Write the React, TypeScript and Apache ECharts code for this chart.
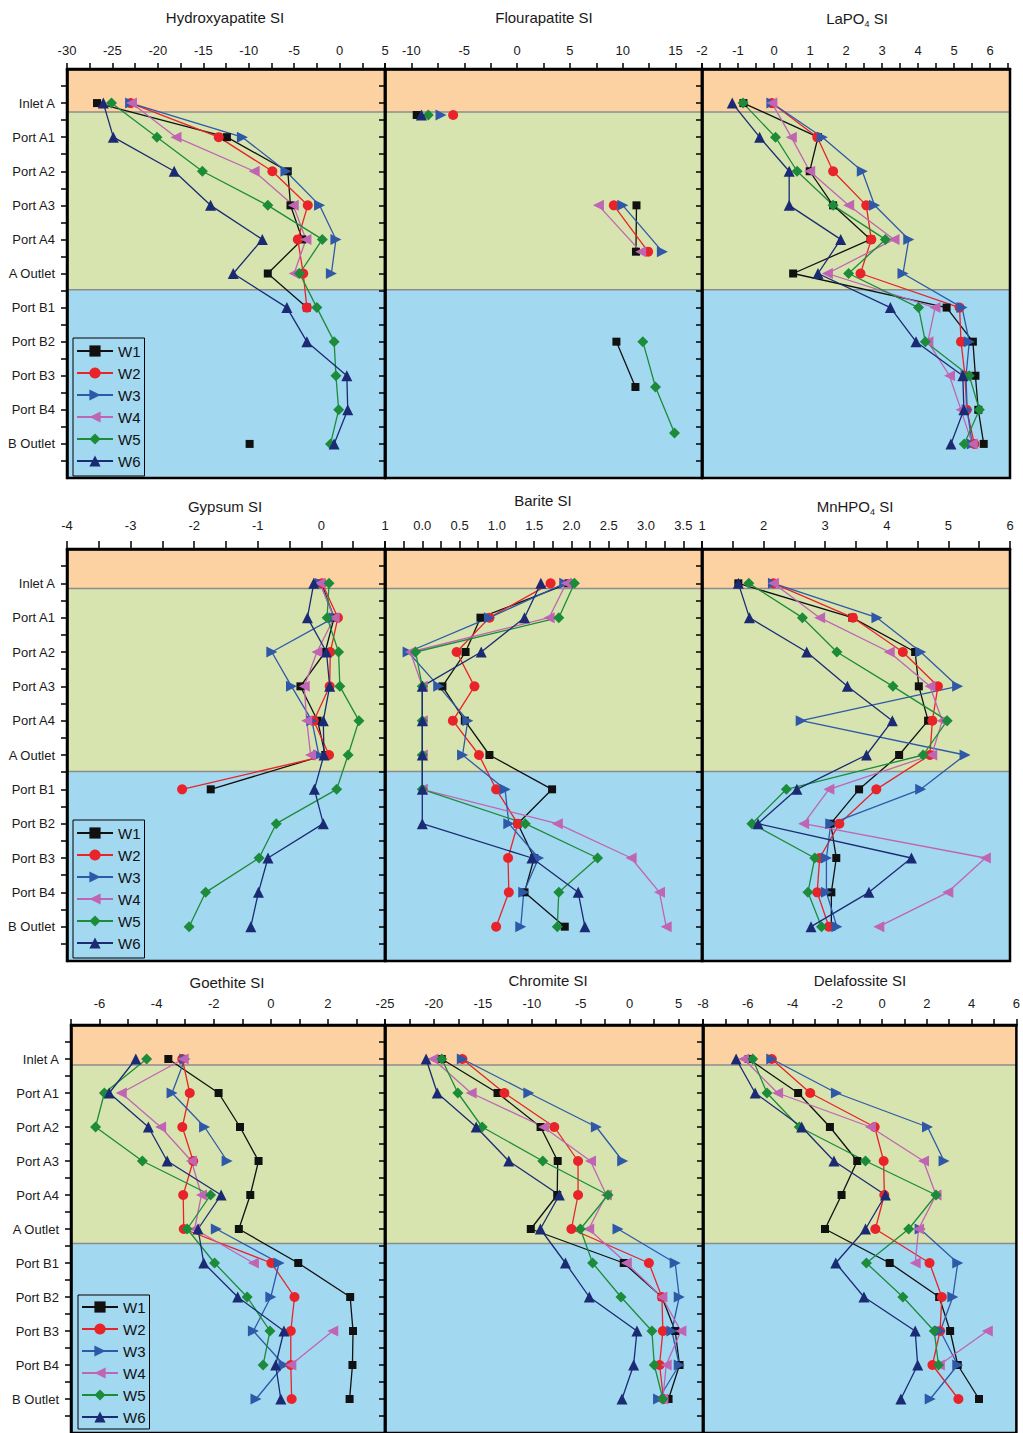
import React, { useEffect, useRef } from 'react';
import * as echarts from 'echarts';

const CATEGORIES = ['Inlet A', 'Port A1', 'Port A2', 'Port A3', 'Port A4', 'A Outlet', 'Port B1', 'Port B2', 'Port B3', 'Port B4', 'B Outlet'];
const SERIES_NAMES = ['W1', 'W2', 'W3', 'W4', 'W5', 'W6'];
const _ = '-';

// row positions (Flourapatite points sit slightly off the category rows in the reference)
const STD_ROWS = [0, 1, 2, 3, 4, 5, 6, 7, 8, 9, 10];
const FLOUR_ROWS = [0.35, 1, 2, 3.0, 4.36, 5, 6, 7.0, 8.33, 9.68, 10];

// Hydroxyapatite SI
const HAP_W1 = [-26.7, -12.4, -5.7, -5.4, -4.1, -7.9, -3.6, _, _, _, -9.9];
const HAP_W2 = [-23.0, -13.3, -7.4, -3.5, -4.6, -4.0, -3.6, _, _, _, _];
const HAP_W3 = [-23.0, -10.7, -5.9, -2.2, -0.4, -0.9, _, _, _, _, _];
const HAP_W4 = [-22.9, -18.0, -9.4, -5.1, -3.7, -5.0, _, _, _, _, _];
const HAP_W5 = [-25.1, -20.1, -15.1, -7.9, -1.9, -4.4, -2.5, -0.6, -0.4, -0.1, -1.0];
const HAP_W6 = [-26.0, -24.9, -18.2, -14.2, -8.5, -11.7, -5.8, -3.6, 0.8, 0.9, -0.6];

// Flourapatite SI
const FAP_W1 = [-9.5, _, _, 11.3, 11.25, _, _, 9.4, 11.2, _, _];
const FAP_W2 = [-6.05, _, _, 9.15, 12.4, _, _, _, _, _, _];
const FAP_W3 = [-7.2, _, _, 10.0, 13.75, _, _, _, _, _, _];
const FAP_W4 = [_, _, _, 7.7, 11.7, _, _, _, _, _, _];
const FAP_W5 = [-8.4, _, _, _, _, _, _, 11.9, 13.1, 14.9, _];
const FAP_W6 = [-9.05, _, _, _, _, _, _, _, _, _, _];

// LaPO4 SI
const LAP_W1 = [-0.85, 1.22, 0.99, 1.64, 2.68, 0.53, 4.79, 5.52, 5.59, 5.67, 5.82];
const LAP_W2 = [-0.06, 1.2, 1.64, 2.56, 2.7, 2.4, 5.15, 5.19, 5.3, 5.35, 5.56];
const LAP_W3 = [-0.06, 1.34, 2.45, 2.79, 3.74, 3.58, 5.22, 5.42, 5.33, 5.36, 5.5];
const LAP_W4 = [-0.06, 0.48, 0.99, 2.07, 3.33, 1.48, 4.47, 4.27, 4.87, 5.19, 5.5];
const LAP_W5 = [-0.86, 0.04, 0.64, 1.64, 3.09, 2.07, 4.01, 4.2, 5.42, 5.7, 5.28];
const LAP_W6 = [-1.16, -0.4, 0.42, 0.42, 1.85, 1.22, 3.23, 3.94, 5.24, 5.27, 4.91];

// Gypsum SI
const GYP_W1 = [0.0, 0.2, 0.06, -0.33, -0.06, 0.06, -1.74, _, _, _, _];
const GYP_W2 = [0.01, 0.26, 0.14, 0.13, -0.12, 0.12, -2.19, _, _, _, _];
const GYP_W3 = [-0.02, 0.2, -0.78, -0.47, -0.15, -0.04, _, _, _, _, _];
const GYP_W4 = [-0.02, 0.2, -0.07, -0.27, -0.23, -0.17, _, _, _, _, _];
const GYP_W5 = [0.12, 0.09, 0.27, 0.29, 0.59, 0.42, 0.24, -0.71, -0.98, -1.82, -2.08];
const GYP_W6 = [-0.12, -0.22, 0.08, 0.13, 0.03, 0.04, -0.11, 0.03, -0.84, -0.99, -1.11];

// Barite SI
const BAR_W1 = [1.96, 0.78, 0.58, 0.27, 0.57, 0.9, 1.74, 1.28, 1.5, 1.37, 1.91];
const BAR_W2 = [1.72, 0.9, 0.46, 0.7, 0.41, 0.76, 0.99, 1.28, 1.15, 1.16, 0.99];
const BAR_W3 = [1.91, 0.9, -0.19, 0.22, 0.61, 0.54, 1.11, 1.16, 1.56, 1.36, 1.32];
const BAR_W4 = [1.93, 1.7, -0.16, 0, 0, 0, 0, 1.81, 2.8, 3.18, 3.27];
const BAR_W5 = [2.04, 1.83, -0.09, 0, 0, 0, 0, 1.38, 2.35, 1.83, 1.81];
const BAR_W6 = [1.59, 1.37, 0.79, 0, 0, 0, 0, 0, 1.47, 2.09, 2.18];

// MnHPO4 SI
const MNH_W1 = [1.59, 3.44, 4.46, 4.52, 4.67, 4.2, 3.55, 3.09, 3.18, 3.1, 3.1];
const MNH_W2 = [2.16, 3.45, 4.26, 4.83, 4.74, 4.7, 3.83, 3.23, 2.91, 2.87, 3.06];
const MNH_W3 = [2.16, 3.84, 4.55, 5.15, 2.61, 5.27, 4.55, 3.09, 3.02, 3.02, 3.19];
const MNH_W4 = [2.16, 2.91, 4.04, 4.7, 4.9, 4.73, 3.06, 2.65, 5.6, 4.99, 3.87];
const MNH_W5 = [1.76, 2.63, 3.19, 4.1, 4.98, 4.59, 2.37, 1.81, 2.83, 2.72, 2.94];
const MNH_W6 = [1.59, 1.77, 2.7, 3.36, 4.09, 3.67, 2.54, 1.91, 4.4, 3.71, 2.77];

// Goethite SI
const GOE_W1 = [-3.59, -1.83, -1.08, -0.43, -0.72, -1.12, 0.96, 2.78, 2.88, 2.86, 2.76];
const GOE_W2 = [-3.1, -2.84, -3.1, -2.72, -3.07, -3.05, 0.02, 0.83, 0.7, 0.7, 0.73];
const GOE_W3 = [-3.01, -3.46, -2.32, -1.53, _, -1.91, 0.29, 0.0, -0.61, 0.46, -0.52];
const GOE_W4 = [-3.07, -5.24, -3.86, -2.78, -2.43, -2.67, -0.61, _, 2.17, 0.7, _];
const GOE_W5 = [-4.35, -5.83, -6.14, -4.5, -2.11, -2.93, -1.97, -0.83, -0.03, -0.27, _];
const GOE_W6 = [-4.73, -5.66, -4.29, -3.63, -1.74, -2.55, -2.35, -1.16, 0.46, 0.17, 0.35];

// Chromite SI
const CHR_W1 = [-19.2, -13.5, -9.1, -7.35, -7.4, -10.1, -0.6, 3.3, 4.66, 5.1, 3.98];
const CHR_W2 = [-17.1, -12.8, -7.7, -5.27, -5.27, -5.95, 1.97, 3.3, 3.4, 3.06, 3.47];
const CHR_W3 = [-17.1, -10.3, -3.4, -0.71, _, -1.19, 4.66, 5.07, 4.32, 5.07, 2.96];
const CHR_W4 = [-20.1, -16.2, -8.8, -4.0, -2.38, -4.18, -0.34, 3.3, 5.24, 3.74, 3.4];
const CHR_W5 = [-19.2, -17.55, -15.07, -8.88, -2.21, -5.03, -3.78, -0.88, 2.28, 2.52, 3.4];
const CHR_W6 = [-20.8, -19.66, -15.68, -12.35, -7.18, -9.12, -6.56, -4.12, 0.75, 0.41, -0.78];

// Delafossite SI
const DEL_W1 = [-5.96, -3.75, -2.33, -1.11, -1.81, -2.55, 0.34, 2.55, 3.04, 3.38, 4.33];
const DEL_W2 = [-4.93, -3.21, -0.33, 0.07, 0.1, -0.3, 2.12, 2.67, 2.59, 2.25, 3.41];
const DEL_W3 = [-4.93, -2.04, 2.03, 2.77, _, 1.7, 3.38, 3.16, 2.6, 3.38, 2.15];
const DEL_W4 = [-6.18, -4.67, -0.52, 1.85, 2.41, 1.63, 1.48, _, 4.7, 2.56, _];
const DEL_W5 = [-5.78, -5.14, -3.7, -0.74, 2.41, 1.19, -0.7, 0.93, 2.33, 2.52, _];
const DEL_W6 = [-6.52, -5.67, -3.59, -2.15, 0.15, -0.74, -2.07, -0.81, 1.48, 1.59, 0.84];

// zone bands (in row units) per figure row: inlet, chamber A, chamber B
const BAND_EDGES_BY_ROW = [
  [[-1, 0.26], [0.26, 5.48], [5.48, 11]],
  [[-1, 0.15], [0.15, 5.48], [5.48, 11]],
  [[-1, 0.18], [0.18, 5.43], [5.43, 11]],
];
const BAND_COLORS = ['#fdd2a3', '#d7e4af', '#a3d8f1'];

type Panel = {
  title: string; sub?: string; min: number; max: number;
  labelFrom: number; labelTo: number; labelStep: number;
  tickFrom: number; tickTo: number; tickStep: number; dec: number;
  rows: number[]; data: any[][];
};

const PANELS: Panel[] = [
  { title: 'Hydroxyapatite SI', min: -30, max: 5, labelFrom: -30, labelTo: 5, labelStep: 5, tickFrom: -30, tickTo: 5, tickStep: 2.5, dec: 0, rows: STD_ROWS, data: [HAP_W1, HAP_W2, HAP_W3, HAP_W4, HAP_W5, HAP_W6] },
  { title: 'Flourapatite SI', min: -12.5, max: 17.5, labelFrom: -10, labelTo: 15, labelStep: 5, tickFrom: -12.5, tickTo: 17.5, tickStep: 2.5, dec: 0, rows: FLOUR_ROWS, data: [FAP_W1, FAP_W2, FAP_W3, FAP_W4, FAP_W5, FAP_W6] },
  { title: 'LaPO', sub: '4', min: -2, max: 6.55, labelFrom: -2, labelTo: 6, labelStep: 1, tickFrom: -2, tickTo: 6.5, tickStep: 0.5, dec: 0, rows: STD_ROWS, data: [LAP_W1, LAP_W2, LAP_W3, LAP_W4, LAP_W5, LAP_W6] },
  { title: 'Gypsum SI', min: -4, max: 1, labelFrom: -4, labelTo: 1, labelStep: 1, tickFrom: -4, tickTo: 1, tickStep: 0.5, dec: 0, rows: STD_ROWS, data: [GYP_W1, GYP_W2, GYP_W3, GYP_W4, GYP_W5, GYP_W6] },
  { title: 'Barite SI', min: -0.5, max: 3.75, labelFrom: 0, labelTo: 3.5, labelStep: 0.5, tickFrom: -0.5, tickTo: 3.75, tickStep: 0.25, dec: 1, rows: STD_ROWS, data: [BAR_W1, BAR_W2, BAR_W3, BAR_W4, BAR_W5, BAR_W6] },
  { title: 'MnHPO', sub: '4', min: 1, max: 6, labelFrom: 1, labelTo: 6, labelStep: 1, tickFrom: 1, tickTo: 6, tickStep: 0.5, dec: 0, rows: STD_ROWS, data: [MNH_W1, MNH_W2, MNH_W3, MNH_W4, MNH_W5, MNH_W6] },
  { title: 'Goethite SI', min: -7, max: 4, labelFrom: -6, labelTo: 2, labelStep: 2, tickFrom: -7, tickTo: 4, tickStep: 1, dec: 0, rows: STD_ROWS, data: [GOE_W1, GOE_W2, GOE_W3, GOE_W4, GOE_W5, GOE_W6] },
  { title: 'Chromite SI', min: -25, max: 7.5, labelFrom: -25, labelTo: 5, labelStep: 5, tickFrom: -25, tickTo: 7.5, tickStep: 2.5, dec: 0, rows: STD_ROWS, data: [CHR_W1, CHR_W2, CHR_W3, CHR_W4, CHR_W5, CHR_W6] },
  { title: 'Delafossite SI', min: -8, max: 6, labelFrom: -8, labelTo: 6, labelStep: 2, tickFrom: -8, tickTo: 6, tickStep: 1, dec: 0, rows: STD_ROWS, data: [DEL_W1, DEL_W2, DEL_W3, DEL_W4, DEL_W5, DEL_W6] },
];

// layout
const ROW_TOP = [69, 549, 1025];
const ROW_H = [409, 412, 409];
const COLS = [
  [[67, 318], [385, 317], [702, 308]],
  [[67, 318], [385, 317], [702, 308]],
  [[71, 314], [385, 318], [703, 315]],
];
const LABEL_MARGIN = [12, 17, 15];
const TICK_LEN = [6, 8, 6];
const TITLE_POS = [[225, 17], [544, 17], [857, 18], [225, 506], [543, 500], [855, 506], [227, 982], [548, 980], [860, 980]];
const LEGEND_POS = [[73, 338], [73, 820], [78, 1295]];
const LEGEND_PAD = [[5, 4, 7, 3], [5, 4, 7, 3], [4, 4, 4, 3]];

const COLORS = ['#111111', '#e8232a', '#2f59a8', '#c064b4', '#1c8c3a', '#1b2b73'];
const SYMBOLS = ['rect', 'circle', 'triangle', 'triangle', 'diamond', 'triangle'];
const SYMBOL_SIZES = [8, 10, 11, 11, 11, 11];
const SYMBOL_ROT = [0, 0, -90, 90, 0, 0];

const FONT = '"Liberation Sans", Arial, Helvetica, sans-serif';

function range(a: number, b: number, step: number) {
  const out: number[] = [];
  for (let v = a; v <= b + 1e-9; v += step) out.push(Math.round(v * 1000) / 1000);
  return out;
}

function buildOption() {
  const grid: any[] = [];
  const xAxis: any[] = [];
  const yAxis: any[] = [];
  const series: any[] = [];
  const graphic: any[] = [];

  PANELS.forEach((pn, p) => {
    const r = Math.floor(p / 3);
    const c = p % 3;
    const [left, width] = COLS[r][c];
    grid.push({
      left, top: ROW_TOP[r], width, height: ROW_H[r],
      show: true, borderColor: '#000', borderWidth: 2.5, backgroundColor: 'transparent', z: 4,
    });
    xAxis.push({
      gridIndex: p, type: 'value', position: 'top', min: pn.min, max: pn.max, z: 5,
      axisLine: { show: true, onZero: false, lineStyle: { color: '#000', width: 2.5 } },
      axisTick: { show: true, inside: false, length: TICK_LEN[r], lineStyle: { color: '#000', width: 1.5 }, customValues: range(pn.tickFrom, pn.tickTo, pn.tickStep) },
      splitLine: { show: false },
      axisLabel: {
        show: true, customValues: range(pn.labelFrom, pn.labelTo, pn.labelStep), margin: LABEL_MARGIN[r],
        fontSize: 13, color: '#1a1a1a', fontFamily: FONT,
        formatter: (v: number) => (pn.dec ? v.toFixed(pn.dec) : String(Math.round(v))),
      },
    });
    yAxis.push({
      gridIndex: p, type: 'value', inverse: true, min: -1, max: 11, z: 5,
      axisLine: { show: true, onZero: false, lineStyle: { color: '#000', width: 2.5 } },
      axisTick: { show: true, inside: false, length: 6, lineStyle: { color: '#000', width: 1.5 }, customValues: range(-0.5, 10.5, 0.5) },
      splitLine: { show: false },
      axisLabel: {
        show: c === 0, customValues: STD_ROWS, margin: 12, fontSize: 13, color: '#1a1a1a', fontFamily: FONT,
        formatter: (v: number) => CATEGORIES[Math.round(v)] || '',
      },
    });
    series.push({
      type: 'custom', name: 'zones', xAxisIndex: p, yAxisIndex: p, z: 1, silent: true,
      data: BAND_EDGES_BY_ROW[r],
      renderItem: (params: any, api: any) => {
        const cs = params.coordSys;
        const y0 = api.coord([pn.min, api.value(0)])[1];
        const y1 = api.coord([pn.min, api.value(1)])[1];
        const children: any[] = [{
          type: 'rect', shape: { x: cs.x, y: Math.min(y0, y1), width: cs.width, height: Math.abs(y1 - y0) },
          style: { fill: BAND_COLORS[params.dataIndex] },
        }];
        if (params.dataIndex > 0) {
          children.push({ type: 'line', shape: { x1: cs.x, y1: y0, x2: cs.x + cs.width, y2: y0 }, style: { stroke: '#8c8c8c', lineWidth: 1.5 } });
        }
        return { type: 'group', children };
      },
    });
    pn.data.forEach((vals, w) => {
      series.push({
        type: 'line', name: SERIES_NAMES[w], xAxisIndex: p, yAxisIndex: p, z: 3,
        data: vals.map((v, i) => [v, pn.rows[i]]),
        symbol: SYMBOLS[w], symbolSize: SYMBOL_SIZES[w], symbolRotate: SYMBOL_ROT[w],
        lineStyle: { color: COLORS[w], width: 1.3 },
        itemStyle: { color: COLORS[w], borderWidth: 0 },
        clip: false, emphasis: { disabled: true }, connectNulls: false,
      });
    });
    const [tx, ty] = TITLE_POS[p];
    graphic.push({
      type: 'text', x: tx, y: ty, z: 10,
      style: {
        text: pn.sub ? `${pn.title}{s|${pn.sub}} SI` : pn.title,
        align: 'center', verticalAlign: 'middle', fontSize: 15, fontFamily: FONT, fill: '#1a1a1a',
        rich: { s: { fontSize: 9, fontFamily: FONT, fill: '#1a1a1a', padding: [11, 0, 0, 0] } },
      },
    });
  });

  const legend = LEGEND_POS.map(([l, t], i) => ({
    orient: 'vertical', left: l, top: t, data: SERIES_NAMES,
    itemWidth: 36, itemHeight: 14, itemGap: 6,
    padding: LEGEND_PAD[i], borderColor: '#000', borderWidth: 1, backgroundColor: 'transparent',
    textStyle: { fontSize: 15, color: '#111', fontFamily: FONT, lineHeight: 16 },
    selectedMode: false, z: 8,
  }));

  return {
    animation: false,
    backgroundColor: '#ffffff',
    grid, xAxis, yAxis, series, legend, graphic,
  };
}

export default function App() {
  const ref = useRef<HTMLDivElement>(null);
  useEffect(() => {
    document.body.style.margin = '0';
    const chart = echarts.init(ref.current!, null, { renderer: 'svg' });
    chart.setOption(buildOption() as any);
    return () => chart.dispose();
  }, []);
  return <div ref={ref} style={{ width: 1023, height: 1433 }} />;
}
